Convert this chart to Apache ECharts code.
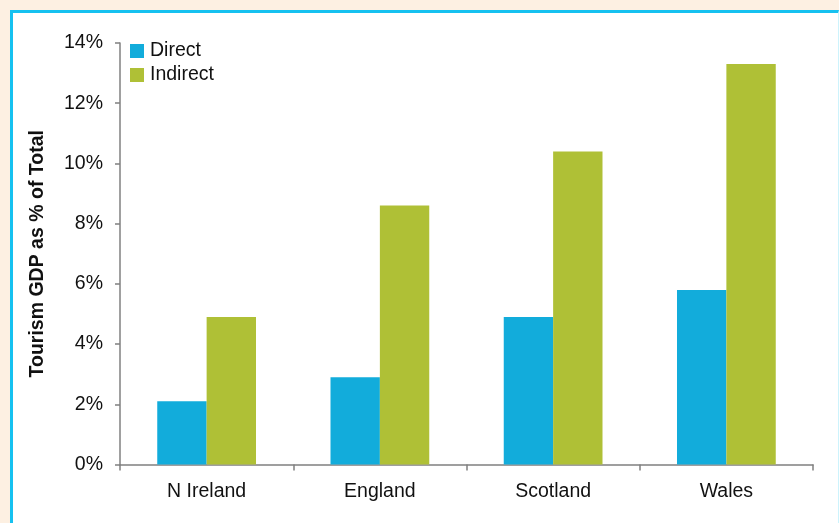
<!DOCTYPE html>
<html>
<head>
<meta charset="utf-8">
<title>Tourism GDP as % of Total</title>
<script src="https://cdn.jsdelivr.net/npm/echarts@6/dist/echarts.min.js"></script>
<style>
  html, body { margin: 0; padding: 0; width: 839px; height: 523px; overflow: hidden; background: #fdf0e2; }
  #frame {
    position: absolute; left: 10px; top: 10px; width: 825px; height: 513px;
    background: #ffffff; border-left: 3px solid #16c1f0; border-top: 3px solid #16c1f0;
    border-right: 1px solid #cdf3fc;
  }
  #chart { position: absolute; left: 0; top: 0; width: 839px; height: 523px; }
</style>
</head>
<body>
<div id="frame"></div>
<div id="chart"></div>
<script>
// Regions and tourism share of GDP (%)
const regions = ['N Ireland', 'England', 'Scotland', 'Wales'];
const directShare = [2.1, 2.9, 4.9, 5.8];
const indirectShare = [4.9, 8.6, 10.4, 13.3];
const yTicks = [0, 2, 4, 6, 8, 10, 12, 14];

const chart = echarts.init(document.getElementById('chart'), null, { renderer: 'canvas' });
const font = 'Liberation Sans, Arial, sans-serif';
const axisGrey = '#808080';
const fs = 19.5;

chart.setOption({
  backgroundColor: 'transparent',
  animation: false,
  textStyle: { fontFamily: font },
  legend: {
    left: 125, top: 36, orient: 'vertical', itemGap: 4,
    itemWidth: 14, itemHeight: 14, icon: 'rect',
    textStyle: { fontSize: fs, color: '#111', fontFamily: font, padding: [0, 0, 0, 1] },
    data: ['Direct', 'Indirect']
  },
  grid: { left: 120, top: 43, right: 26, bottom: 58.5, containLabel: false },
  xAxis: {
    type: 'category', data: regions,
    axisLine: { lineStyle: { color: axisGrey, width: 1.5 } },
    axisTick: { show: true, length: 6, alignWithLabel: false, lineStyle: { color: axisGrey, width: 1.5 } },
    axisLabel: { color: '#111', fontSize: fs, margin: 17, fontFamily: font }
  },
  yAxis: {
    type: 'value', min: yTicks[0], max: yTicks[yTicks.length - 1], interval: 2,
    name: 'Tourism GDP as % of Total', nameLocation: 'middle', nameGap: 72,
    nameTextStyle: { fontSize: fs, fontWeight: 'bold', color: '#111', fontFamily: font },
    axisLine: { show: true, lineStyle: { color: axisGrey, width: 1.5 } },
    axisTick: { show: true, length: 5, inside: false, lineStyle: { color: axisGrey, width: 1.5 } },
    splitLine: { show: false },
    axisLabel: { color: '#111', fontSize: fs, margin: 17, fontFamily: font, formatter: v => v + '%' }
  },
  series: [
    { name: 'Direct', type: 'bar', data: directShare, barGap: '0%', barCategoryGap: '43%',
      itemStyle: { color: '#12acdb' } },
    { name: 'Indirect', type: 'bar', data: indirectShare, barGap: '0%', barCategoryGap: '43%',
      itemStyle: { color: '#afc036' } }
  ]
});
</script>
</body>
</html>
